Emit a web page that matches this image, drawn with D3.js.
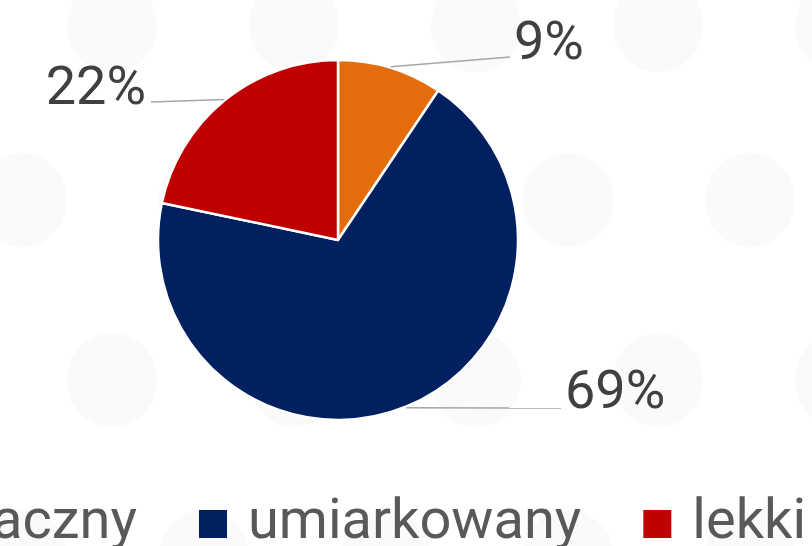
<!DOCTYPE html>
<html>
<head>
<meta charset="utf-8">
<script src="https://cdn.jsdelivr.net/npm/d3@7"></script>
<style>
  html, body { margin: 0; padding: 0; background: #fff; overflow: hidden; }
  text { font-family: Roboto, "Noto Sans", sans-serif; }
</style>
</head>
<body>
<div id="chart"></div>
<script>
// Data
const categories = ["znaczny", "umiarkowany", "lekki"];
const values = [9.4, 68.9, 21.7];
const colors = ["#e46c0a", "#002060", "#c00000"];

// label end points (where leader lines meet the text)
const labelEnds = [[510, 57], [561, 408], [151, 102]];

const width = 812, height = 546;
const cx = 338, cy = 240, radius = 180;

const svg = d3.select("#chart").append("svg")
    .attr("width", width)
    .attr("height", height);

// Faint background dots
const bg = svg.append("g").attr("class", "bg");
const rowsY = [25, 200, 380, 557];
rowsY.forEach((y, i) => {
    const x0 = i % 2 === 0 ? 112 : 22;
    for (let x = x0; x < width + 60; x += 182) {
        bg.append("ellipse")
            .attr("cx", x).attr("cy", y)
            .attr("rx", 45).attr("ry", 47)
            .attr("fill", "#fafafa");
    }
});

// Pie
const pie = d3.pie().sort(null).value(d => d);
const arcs = pie(values);
const arc = d3.arc().innerRadius(0).outerRadius(radius);

const g = svg.append("g").attr("transform", `translate(${cx},${cy})`);

g.selectAll(".slice")
    .data(arcs)
    .enter().append("path")
    .attr("class", "slice")
    .attr("d", arc)
    .attr("fill", (d, i) => colors[i])
    .attr("stroke", "#fff")
    .attr("stroke-width", 2.5)
    .attr("stroke-linejoin", "round");

// Leader lines + labels
const fmt = d3.format(".0f");
arcs.forEach((d, i) => {
    const mid = (d.startAngle + d.endAngle) / 2;
    const sx = cx + Math.sin(mid) * (radius + 1);
    const sy = cy - Math.cos(mid) * (radius + 1);
    const [ex, ey] = labelEnds[i];
    svg.append("line")
        .attr("x1", sx).attr("y1", sy)
        .attr("x2", ex).attr("y2", ey)
        .attr("stroke", "#a6a6a6")
        .attr("stroke-width", 1.5);
    const left = ex < cx;
    svg.append("text")
        .attr("x", left ? ex - 5 : ex + 4)
        .attr("y", ey + (i === 1 ? 0 : 2))
        .attr("text-anchor", left ? "end" : "start")
        .attr("font-size", 54)
        .attr("fill", "#404040")
        .text(fmt(d.data) + "%");
});

// Legend (overflows left edge, as in the original)
const legend = svg.append("g").attr("class", "legend");
const legendY = 538, sq = 28, gapText = 49, gapItem = 62;
const items = categories.map((c, i) => {
    const it = legend.append("g");
    it.append("rect")
        .attr("y", legendY - sq)
        .attr("width", sq).attr("height", sq)
        .attr("fill", colors[i]);
    const t = it.append("text")
        .attr("x", gapText)
        .attr("y", legendY)
        .attr("font-size", 56)
        .attr("fill", "#595959")
        .text(c);
    return { g: it, w: t.node().getComputedTextLength() };
});
// position so that second item's square sits at x = 199
let x = 199 - gapItem - items[0].w - gapText;
items.forEach(it => {
    it.g.attr("transform", `translate(${x},0)`);
    x += gapText + it.w + gapItem;
});
</script>
</body>
</html>
